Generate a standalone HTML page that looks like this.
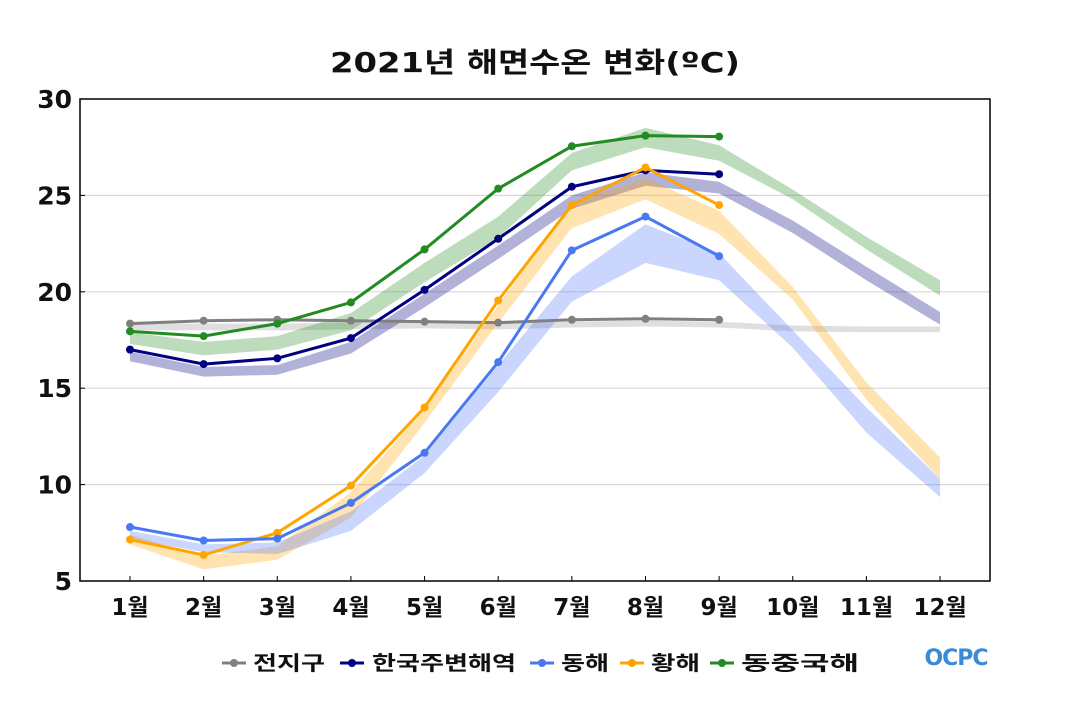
<!DOCTYPE html>
<html><head><meta charset="utf-8"><style>
body{margin:0;background:#fff;}
svg text{font-family:"DejaVu Sans","Noto Sans CJK KR",sans-serif;}
</style></head><body>
<svg id="s" width="1070" height="700" xmlns="http://www.w3.org/2000/svg">
<rect width="1070" height="700" fill="#fff"/>
<text x="330" y="72" font-size="28" font-weight="bold" fill="#111" textLength="410" lengthAdjust="spacingAndGlyphs">2021년 해면수온 변화(ºC)</text>
<g id="grid"></g>
<g id="bands"></g>
<g id="lines"></g>
<rect x="80" y="99" width="910" height="482" fill="none" stroke="#000" stroke-width="1.5"/>
<g id="ax" font-size="25" font-weight="bold" fill="#111"></g>
<g font-size="20" font-weight="bold" fill="#111">
<line x1="222" y1="663" x2="246" y2="663" stroke="#808080" stroke-width="3"/><circle cx="234" cy="663" r="4" fill="#808080"/>
<text x="253" y="670" textLength="72" lengthAdjust="spacingAndGlyphs">전지구</text>
<line x1="340" y1="663" x2="364" y2="663" stroke="#000080" stroke-width="3"/><circle cx="352" cy="663" r="4" fill="#000080"/>
<text x="372" y="670" textLength="144" lengthAdjust="spacingAndGlyphs">한국주변해역</text>
<line x1="530" y1="663" x2="554" y2="663" stroke="#4a78f0" stroke-width="3"/><circle cx="542" cy="663" r="4" fill="#4a78f0"/>
<text x="561" y="670" textLength="48" lengthAdjust="spacingAndGlyphs">동해</text>
<line x1="620" y1="663" x2="644" y2="663" stroke="#ffa500" stroke-width="3"/><circle cx="632" cy="663" r="4" fill="#ffa500"/>
<text x="651" y="670" textLength="49" lengthAdjust="spacingAndGlyphs">황해</text>
<line x1="710" y1="663" x2="734" y2="663" stroke="#228b22" stroke-width="3"/><circle cx="722" cy="663" r="4" fill="#228b22"/>
<text x="741" y="670" textLength="118" lengthAdjust="spacingAndGlyphs">동중국해</text>
</g>
<text x="956" y="665" text-anchor="middle" font-size="22" font-weight="bold" fill="#3a8ad8" letter-spacing="-1">OCPC</text>
</svg>
<script>
const X=i=>130+73.64*i, Y=v=>581-(v-5)*19.28;
const ns="http://www.w3.org/2000/svg";
function el(p,t,a){const e=document.createElementNS(ns,t);for(const k in a)e.setAttribute(k,a[k]);document.getElementById(p).appendChild(e);return e;}
[25,20,15,10].forEach(v=>el("grid","line",{x1:80,x2:990,y1:Y(v),y2:Y(v),stroke:"#d8d8d8","stroke-width":1.2}));
[5,10,15,20,25,30].forEach(v=>{const t=el("ax","text",{x:72,y:Y(v)+9,"text-anchor":"end"});t.textContent=v;el("grid","line",{x1:80,x2:85,y1:Y(v),y2:Y(v),stroke:"#000"});});
for(let i=0;i<12;i++){const t=el("ax","text",{x:X(i),y:615,"text-anchor":"middle","font-size":23});t.textContent=(i+1)+"월";el("grid","line",{x1:X(i),x2:X(i),y1:576,y2:581,stroke:"#000"});}
const bands=[
["rgba(128,128,128,0.25)",[[18.0,18.35],[18.0,18.35],[18.0,18.35],[18.05,18.4],[18.1,18.4],[18.05,18.35],[18.15,18.45],[18.2,18.5],[18.15,18.45],[17.95,18.25],[17.9,18.2],[17.9,18.2]]],
["rgba(0,0,128,0.3)",[[16.4,16.9],[15.6,16.1],[15.7,16.2],[16.8,17.4],[19.2,19.9],[21.7,22.4],[24.3,25.0],[25.5,26.2],[25.1,25.7],[23.05,23.7],[20.6,21.3],[18.3,18.95]]],
["rgba(34,139,34,0.3)",[[17.3,17.9],[16.7,17.4],[17.0,17.7],[18.0,18.9],[20.5,21.5],[22.8,23.9],[26.3,27.2],[27.5,28.5],[26.8,27.6],[24.8,25.3],[22.2,22.85],[19.8,20.6]]],
["rgba(255,165,0,0.3)",[[6.9,7.4],[5.6,6.3],[6.1,6.8],[8.3,9.6],[13.2,13.9],[18.4,19.3],[23.3,24.6],[24.8,25.9],[23.0,24.2],[19.6,20.25],[14.4,15.3],[10.3,11.4]]],
["rgba(80,120,250,0.3)",[[7.2,7.6],[6.5,6.9],[6.4,7.0],[7.6,8.6],[10.6,11.5],[14.8,16.2],[19.5,20.8],[21.5,23.5],[20.6,22.0],[17.1,18.0],[12.7,14.0],[9.35,10.3]]]];
bands.forEach(([c,d])=>{let p=d.map((b,i)=>X(i)+","+Y(b[1]));p=p.concat(d.map((b,i)=>X(i)+","+Y(b[0])).reverse());el("bands","polygon",{points:p.join(" "),fill:c});});
const lines=[
["#808080",[18.35,18.5,18.55,18.5,18.45,18.4,18.55,18.6,18.55]],
["#000080",[17.0,16.25,16.55,17.6,20.1,22.75,25.45,26.3,26.1]],
["#228b22",[17.95,17.7,18.35,19.45,22.2,25.35,27.55,28.1,28.05]],
["#ffa500",[7.15,6.35,7.5,9.95,14.0,19.55,24.5,26.45,24.5]],
["#4a78f0",[7.8,7.1,7.2,9.05,11.65,16.35,22.15,23.9,21.85]]];
lines.forEach(([c,d])=>{el("lines","polyline",{points:d.map((v,i)=>X(i)+","+Y(v)).join(" "),fill:"none",stroke:c,"stroke-width":3});d.forEach((v,i)=>el("lines","circle",{cx:X(i),cy:Y(v),r:4,fill:c}));});
</script>
</body></html>
